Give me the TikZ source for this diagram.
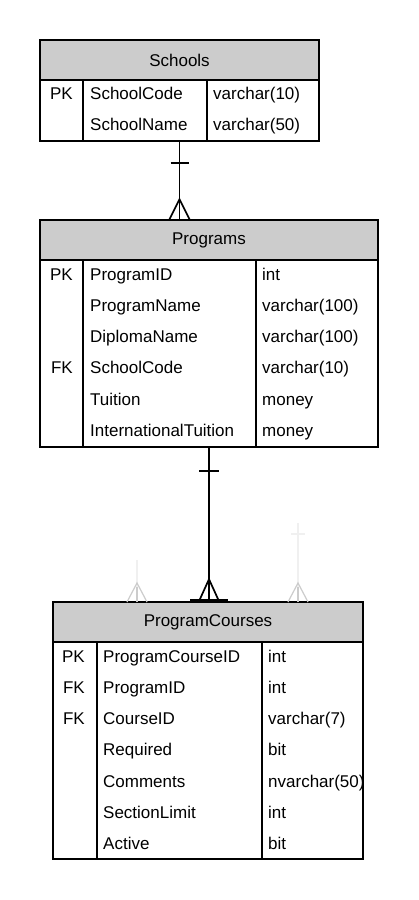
\documentclass[tikz,border=0pt]{standalone}
\usepackage{fontspec}
\setmainfont{Liberation Sans}
\usetikzlibrary{calc, positioning}

\tikzset{
  hdr/.style={draw, line width=1.6pt, fill=black!20, minimum height=40pt, inner sep=0pt, font=\fontsize{17}{20}\selectfont},
  tbl/.style={draw, line width=1.6pt, fill=white, inner sep=0pt},
  key/.style={anchor=base east, inner sep=0pt, font=\fontsize{17}{20}\selectfont},
  fld/.style={anchor=base west, inner sep=0pt, font=\fontsize{17}{20}\selectfont},
  rel/.style={line width=1.7pt},
  ghost/.style={line width=1.2pt, black!6},
  ghostfoot/.style={line width=1.2pt, black!20},
}

\begin{document}
\begin{tikzpicture}[x=1pt, y=-1pt]
      \useasboundingbox[fill=white] (0, 0) rectangle (418, 900);

      % Schools
      \node[hdr, minimum width=279pt] (schoolsHead) at (179.5, 60) {Schools};
      \node[tbl, minimum width=279pt, minimum height=61pt] (schools) at (179.5, 110.5) {};
      \draw[rel] (83, 80) -- (83, 141);
      \draw[rel] (207, 80) -- (207, 141);
      \node[key] (schoolsK1) at (73, 99) {PK};
      \node[fld] (schoolsF1) at (90, 99) {SchoolCode};
      \node[fld] (schoolsF2) at (90, 130) {SchoolName};
      \node[fld] (schoolsT1) at (213, 99) {varchar(10)};
      \node[fld] (schoolsT2) at (213, 130) {varchar(50)};

      % Programs
      \node[hdr, minimum width=338pt] (programsHead) at (209, 240) {Programs};
      \node[tbl, minimum width=338pt, minimum height=187pt] (programs) at (209, 353.5) {};
      \draw[rel] (83, 260) -- (83, 447);
      \draw[rel] (256, 260) -- (256, 447);
      \node[key] (programsK1) at (73, 280) {PK};
      \node[key] (programsK4) at (73, 373) {FK};
      \node[fld] (programsF1) at (90, 280) {ProgramID};
      \node[fld] (programsF2) at (90, 311) {ProgramName};
      \node[fld] (programsF3) at (90, 342) {DiplomaName};
      \node[fld] (programsF4) at (90, 373) {SchoolCode};
      \node[fld] (programsF5) at (90, 405) {Tuition};
      \node[fld] (programsF6) at (90, 436) {InternationalTuition};
      \node[fld] (programsT1) at (262, 280) {int};
      \node[fld] (programsT2) at (262, 311) {varchar(100)};
      \node[fld] (programsT3) at (262, 342) {varchar(100)};
      \node[fld] (programsT4) at (262, 373) {varchar(10)};
      \node[fld] (programsT5) at (262, 405) {money};
      \node[fld] (programsT6) at (262, 436) {money};

      % ProgramCourses
      \node[hdr, minimum width=310pt] (coursesHead) at (208, 622) {ProgramCourses};
      \node[tbl, minimum width=310pt, minimum height=217pt] (courses) at (208, 750.5) {};
      \draw[rel] (97, 642) -- (97, 859);
      \draw[rel] (262, 642) -- (262, 859);
      \node[key] (coursesK1) at (85, 662) {PK};
      \node[key] (coursesK2) at (85, 693) {FK};
      \node[key] (coursesK3) at (85, 724) {FK};
      \node[fld] (coursesF1) at (103, 662) {ProgramCourseID};
      \node[fld] (coursesF2) at (103, 693) {ProgramID};
      \node[fld] (coursesF3) at (103, 724) {CourseID};
      \node[fld] (coursesF4) at (103, 755) {Required};
      \node[fld] (coursesF5) at (103, 787) {Comments};
      \node[fld] (coursesF6) at (103, 818) {SectionLimit};
      \node[fld] (coursesF7) at (103, 849) {Active};
      \node[fld] (coursesT1) at (268, 662) {int};
      \node[fld] (coursesT2) at (268, 693) {int};
      \node[fld] (coursesT3) at (268, 724) {varchar(7)};
      \node[fld] (coursesT4) at (268, 755) {bit};
      \node[fld] (coursesT5) at (268, 787) {nvarchar(50)};
      \node[fld] (coursesT6) at (268, 818) {int};
      \node[fld] (coursesT7) at (268, 849) {bit};

      % Schools -- Programs
      \coordinate (sp) at (schools.south |- programsHead.north);
      \draw[rel] (schools.south) -- (sp);
      \draw[rel] ($(schools.south)+(-9,21)$) -- ++(18,0);
      \draw[rel] ($(sp)+(-10,0)$) -- ++(10,-20) -- ++(10,20);

      % Programs -- ProgramCourses
      \coordinate (pc) at (programs.south |- coursesHead.north);
      \draw[rel] (programs.south) -- (pc);
      \draw[rel] ($(programs.south)+(-10,23)$) -- ++(20,0);
      \draw[rel] ($(pc)+(-10,0)$) -- ++(10,-22) -- ++(10,22);
      \draw[rel] ($(pc)+(-19,-1)$) -- ++(38,0);

      % faded links
      \coordinate (g1) at (137, 602);
      \draw[ghost] (g1) -- ++(0,-42);
      \draw[ghostfoot] ($(g1)+(-10,0)$) -- ++(10,-19) -- ++(10,19);
      \draw[ghostfoot] (g1) -- ++(0,-15);
      \coordinate (g2) at (298, 602);
      \draw[ghost] (g2) -- ++(0,-79);
      \draw[ghost] ($(g2)+(-7,-68)$) -- ++(14,0);
      \draw[ghostfoot] ($(g2)+(-10,0)$) -- ++(10,-19) -- ++(10,19);
      \draw[ghostfoot] (g2) -- ++(0,-15);
\end{tikzpicture}
\end{document}
